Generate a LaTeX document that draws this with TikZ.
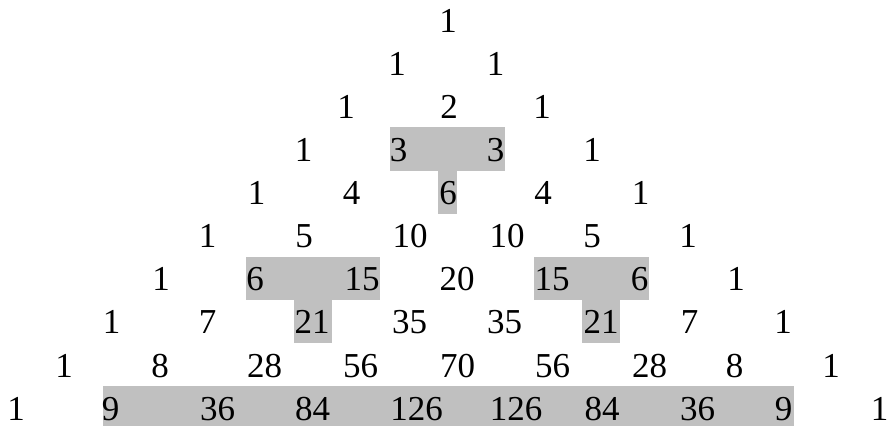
\documentclass[tikz,border=0pt]{standalone}
\usepackage{fontspec}
\setmainfont{Liberation Serif}
\definecolor{hlgray}{RGB}{192,192,192}
\begin{document}
\begin{tikzpicture}[x=1pt,y=-1pt,
  num/.style={anchor=base, inner sep=0pt, font=\fontsize{35}{40}\selectfont},
  hl/.style={fill=hlgray}]
\useasboundingbox (0,0) rectangle (887,426);
% highlighted regions
\fill[hl] (390,127.3) rectangle (505,170.7);
\fill[hl] (437.7,170.5) rectangle (457,214);
\fill[hl] (246,256.7) rectangle (380,299.5);
\fill[hl] (294,299.3) rectangle (331.7,342.7);
\fill[hl] (533.7,256.7) rectangle (649,299.5);
\fill[hl] (582,299.3) rectangle (619.7,342.7);
\fill[hl] (102.7,386) rectangle (794,426);
% rows
\foreach \x/\t [count=\i] in {448/1}
  \node[num] (r1-\i) at (\x,32.2) {\t};
\foreach \x/\t [count=\i] in {397/1,495.5/1}
  \node[num] (r2-\i) at (\x,75.3) {\t};
\foreach \x/\t [count=\i] in {346/1,449/2,542/1}
  \node[num] (r3-\i) at (\x,118.4) {\t};
\foreach \x/\t [count=\i] in {303.5/1,398.5/3,495.5/3,592/1}
  \node[num] (r4-\i) at (\x,161.5) {\t};
\foreach \x/\t [count=\i] in {256.5/1,351.5/4,448/6,543/4,640.5/1}
  \node[num] (r5-\i) at (\x,204.6) {\t};
\foreach \x/\t [count=\i] in {207.5/1,304/5,410/10,507/10,592/5,688/1}
  \node[num] (r6-\i) at (\x,247.7) {\t};
\foreach \x/\t [count=\i] in {161/1,255/6,362/15,457/20,552/15,639.5/6,736/1}
  \node[num] (r7-\i) at (\x,290.8) {\t};
\foreach \x/\t [count=\i] in {111.5/1,207.5/7,312/21,409.5/35,504.5/35,601/21,689.5/7,783/1}
  \node[num] (r8-\i) at (\x,333.9) {\t};
\foreach \x/\t [count=\i] in {64/1,160/8,264.5/28,360.5/56,457.5/70,552.5/56,649.5/28,734.5/8,831/1}
  \node[num] (r9-\i) at (\x,377) {\t};
\foreach \x/\t [count=\i] in {16/1,110.5/9,217.5/36,312.5/84,416.5/126,516/126,602/84,697.5/36,783.5/9,879.5/1}
  \node[num] (r10-\i) at (\x,420.1) {\t};
\end{tikzpicture}
\end{document}
